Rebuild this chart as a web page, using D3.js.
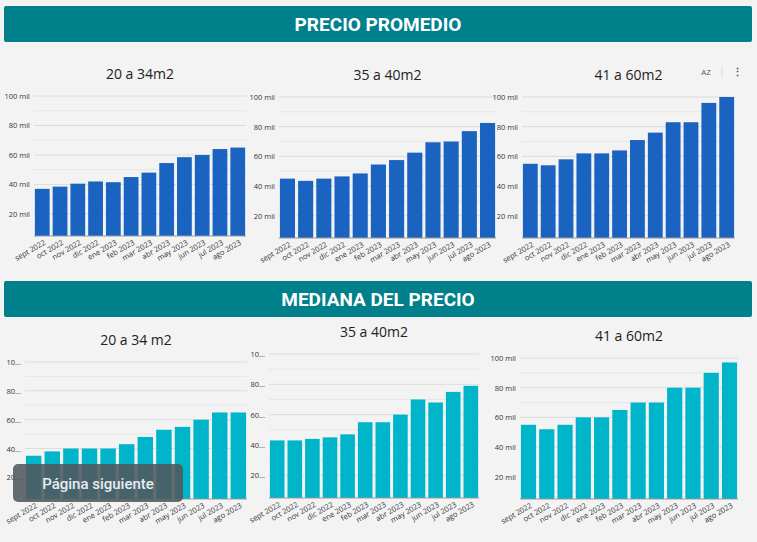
<!DOCTYPE html>
<html><head><meta charset="utf-8">
<script src="https://cdn.jsdelivr.net/npm/d3@7"></script>
<style>body{margin:0;background:#f2f2f2;font-family:"Open Sans",sans-serif}</style>
</head><body>
<script>
const months = ['sept 2022','oct 2022','nov 2022','dic 2022','ene 2023','feb 2023','mar 2023','abr 2023','may 2023','jun 2023','jul 2023','ago 2023'];
const promedio20 = [37,38.5,40.5,42,41.5,45,48,54.5,58.5,60,64,65];
const promedio35 = [45,43.5,45,46.5,48.5,54.5,57.5,62.5,69.5,70,77,82.5];
const promedio41 = [55,54,58,62,62,64,71,76,83,83,96,100];
const mediana20 = [35,38,40,40,40,43,48,53,55,60,65,65];
const mediana35 = [43,43,44,45,47,55,55,60,70,68,75,79];
const mediana41 = [55,52,55,60,60,65,70,70,80,80,90,97];
const tickValues = [20,40,60,80,100];

const W = 757, H = 542;
const svg = d3.select('body').append('svg').attr('width', W).attr('height', H);
svg.append('rect').attr('width', W).attr('height', H).attr('fill', '#f3f3f3');

function header(y, text) {
    svg.append('rect').attr('x', 4).attr('y', y).attr('width', 748).attr('height', 36)
        .attr('fill', '#00808a').attr('rx', 2);
    svg.append('text').attr('x', 378).attr('y', y + 25).attr('text-anchor', 'middle')
        .attr('fill', '#fff').attr('font-size', 19).attr('font-weight', 'bold')
        .attr('font-family', 'Roboto').text(text);
}
header(6, 'PRECIO PROMEDIO');
header(281, 'MEDIANA DEL PRECIO');

function panel(p) {
    const g = svg.append('g');
    const x = d3.scaleBand().domain(months).range([p.x0, p.x1]).paddingInner(0.17).paddingOuter(0.05);
    const y = d3.scaleLinear().domain([5, 100]).range([p.yb, p.yt]);
    g.append('text').attr('x', (p.x0 + p.x1) / 2).attr('y', p.yt - 17).attr('text-anchor', 'middle')
        .attr('font-size', 14).attr('fill', '#222').text(p.title);
    d3.range(10, 101, 10).forEach(v => {
        g.append('line').attr('x1', p.x0).attr('x2', p.x1).attr('y1', y(v)).attr('y2', y(v))
            .attr('stroke', v % 20 === 0 ? '#dcdcdc' : '#e6e6e6');
    });
    tickValues.forEach(v => {
        g.append('text').attr('x', p.x0 - 4).attr('y', y(v) + 3).attr('text-anchor', 'end')
            .attr('font-size', 7.5).attr('fill', '#333').text(p.fmt(v));
    });
    g.selectAll('rect.bar').data(p.values).enter().append('rect').attr('class', 'bar')
        .attr('x', (d, i) => x(months[i])).attr('width', x.bandwidth())
        .attr('y', d => y(d)).attr('height', d => y(5) - y(d)).attr('fill', p.color);
    g.append('line').attr('x1', p.x0).attr('x2', p.x1).attr('y1', p.yb).attr('y2', p.yb).attr('stroke', '#999');
    months.forEach(m => {
        g.append('text').attr('transform', `translate(${x(m) + x.bandwidth() / 2 + 4},${p.yb + 8}) rotate(-30)`)
            .attr('text-anchor', 'end').attr('font-size', 7.5).attr('fill', '#333').text(m);
    });
}
const blue = '#1a63c0', teal = '#00b5ca';
const mil = v => v + ' mil';
panel({x0: 34, x1: 246, yt: 96, yb: 236, title: '20 a 34m2', values: promedio20, color: blue, fmt: mil});
panel({x0: 279, x1: 496, yt: 97, yb: 238, title: '35 a 40m2', values: promedio35, color: blue, fmt: mil});
panel({x0: 522, x1: 735, yt: 97, yb: 238, title: '41 a 60m2', values: promedio41, color: blue, fmt: mil});
panel({x0: 25, x1: 247, yt: 362, yb: 499, title: '20 a 34 m2', values: mediana20, color: teal, fmt: v => (v + '').slice(0, 2) + '...'});
panel({x0: 269, x1: 479, yt: 354, yb: 498, title: '35 a 40m2', values: mediana35, color: teal, fmt: v => (v + '').slice(0, 2) + '...'});
panel({x0: 520, x1: 738, yt: 358, yb: 499, title: '41 a 60m2', values: mediana41, color: teal, fmt: mil});

svg.append('text').attr('x', 706).attr('y', 75).attr('text-anchor', 'middle').attr('font-size', 8).attr('fill', '#555').text('AZ');
svg.append('line').attr('x1', 722).attr('x2', 722).attr('y1', 66).attr('y2', 78).attr('stroke', '#ddd');
svg.append('text').attr('x', 737).attr('y', 76).attr('text-anchor', 'middle').attr('font-size', 11).attr('font-weight', 'bold').attr('fill', '#555').text('⋮');

svg.append('rect').attr('x', 13).attr('y', 464).attr('width', 170).attr('height', 38).attr('rx', 5)
    .attr('fill', 'rgba(80,88,94,0.88)');
svg.append('text').attr('x', 98).attr('y', 489).attr('text-anchor', 'middle').attr('fill', '#e6eef2')
    .attr('font-size', 15).attr('font-family', 'Roboto').attr('font-weight', 500).text('Página siguiente');
</script>
</body></html>
